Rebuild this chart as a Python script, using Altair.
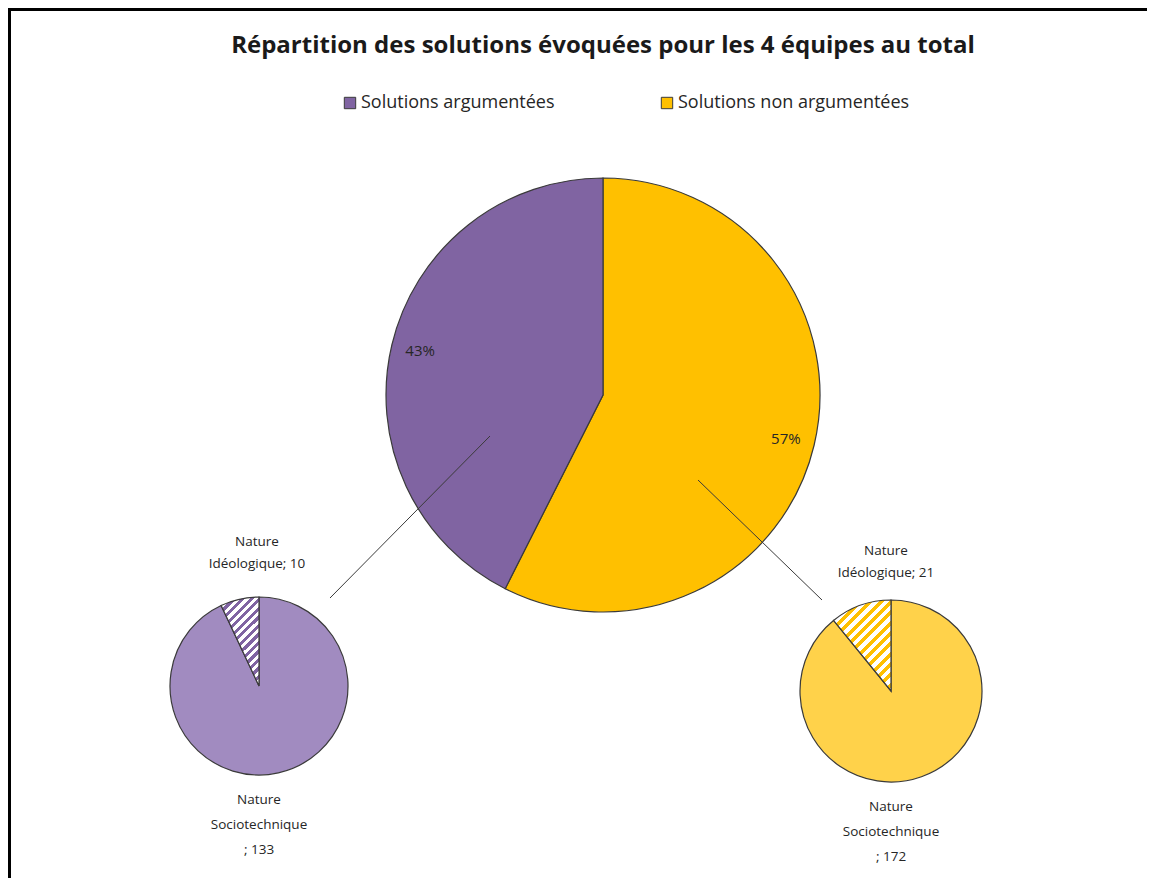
import altair as alt
import pandas as pd

# ---------------- data ----------------
title_text = "Répartition des solutions évoquées pour les 4 équipes au total"
main_categories = ["Solutions non argumentées", "Solutions argumentées"]
main_values = [193, 143]
legend_order = ["Solutions argumentées", "Solutions non argumentées"]
sub_categories = ["Nature Sociotechnique", "Nature Idéologique"]
left_values = [133, 10]    # detail of "Solutions argumentées"
right_values = [172, 21]   # detail of "Solutions non argumentées"

# ---------------- styles ----------------
PURPLE = "#8064a2"
YELLOW = "#ffc000"
PURPLE_DOT = "#a18bc0"
YELLOW_DOT = "#ffd24a"
OUTLINE = "#3a3a3a"
TEXT = "#262626"
FONT = "Open Sans"

W, H = 1139, 870
MAIN_C = (595, 387); MAIN_R = 217
LEFT_C = (251, 678); LEFT_R = 89
RIGHT_C = (883, 683); RIGHT_R = 91


def stripes(color, x2, y2, n=16):
    stops = []
    for i in range(n):
        a = i / n
        b = (i + 0.5) / n
        stops.append({"color": "#ffffff", "offset": a})
        stops.append({"color": "#ffffff", "offset": b})
        stops.append({"color": color, "offset": b})
        stops.append({"color": color, "offset": (i + 1) / n})
    return {"gradient": "linear", "x1": 0, "y1": 0, "x2": x2, "y2": y2, "stops": stops}


main_total = sum(main_values)
main_df = pd.DataFrame({
    "category": main_categories,
    "value": main_values,
    "idx": list(range(len(main_values))),
    "pct": [f"{round(v / main_total * 100)}%" for v in main_values],
})

main_pie = alt.Chart(main_df).mark_arc(
    radius=MAIN_R, stroke=OUTLINE, strokeWidth=1.2
).encode(
    theta=alt.Theta("value:Q", stack=True),
    order=alt.Order("idx:Q"),
    color=alt.Color(
        "category:N",
        scale=alt.Scale(domain=legend_order, range=[PURPLE, YELLOW]),
        legend=alt.Legend(
            title=None, orient="none", legendX=333, legendY=86,
            direction="horizontal", symbolType="square", symbolSize=130,
            symbolStrokeColor=OUTLINE, symbolStrokeWidth=1,
            labelFont=FONT, labelFontSize=18, labelColor=TEXT,
            labelOffset=2, columnPadding=103, labelLimit=400,
        ),
    ),
    x=alt.value(MAIN_C[0]), y=alt.value(MAIN_C[1]),
)

main_labels = alt.Chart(main_df).mark_text(
    radius=188, font=FONT, fontSize=15, color=TEXT
).encode(
    theta=alt.Theta("value:Q", stack=True),
    order=alt.Order("idx:Q"),
    text="pct:N",
    x=alt.value(MAIN_C[0]), y=alt.value(MAIN_C[1]),
)


def sub_pie(values, center, radius, dot, stripe_color, grad):
    df = pd.DataFrame({
        "category": sub_categories,
        "value": values,
        "idx": list(range(len(values))),
    })
    return alt.Chart(df).mark_arc(
        radius=radius, stroke=OUTLINE, strokeWidth=1.2
    ).encode(
        theta=alt.Theta("value:Q", stack=True),
        order=alt.Order("idx:Q"),
        fill=alt.condition(
            alt.datum.category == "Nature Idéologique",
            alt.value(stripes(stripe_color, *grad)),
            alt.value(dot),
        ),
        x=alt.value(center[0]), y=alt.value(center[1]),
    )


left_pie = sub_pie(left_values, LEFT_C, LEFT_R, PURPLE_DOT, PURPLE, (0.55, 1.3))
right_pie = sub_pie(right_values, RIGHT_C, RIGHT_R, YELLOW_DOT, YELLOW, (0.82, 1.3))

# labels of the small pies
ideo_df = pd.DataFrame({
    "label": [f"Nature\nIdéologique; {left_values[1]}", f"Nature\nIdéologique; {right_values[1]}"],
    "px": [249, 878], "py": [527, 536],
})
socio_df = pd.DataFrame({
    "label": [f"Nature\nSociotechnique\n; {left_values[0]}", f"Nature\nSociotechnique\n; {right_values[0]}"],
    "px": [251, 883], "py": [785, 792],
})
ideo_labels = alt.Chart(ideo_df).mark_text(
    font=FONT, fontSize=13.5, color=TEXT, baseline="top", lineBreak="\n", lineHeight=22
).encode(text="label:N", x=alt.X("px:Q", scale=None), y=alt.Y("py:Q", scale=None))
socio_labels = alt.Chart(socio_df).mark_text(
    font=FONT, fontSize=13.5, color=TEXT, baseline="top", lineBreak="\n", lineHeight=25
).encode(text="label:N", x=alt.X("px:Q", scale=None), y=alt.Y("py:Q", scale=None))

# leader lines
lead_df = pd.DataFrame({"x": [482, 690], "y": [428, 472], "x2": [322, 814], "y2": [590, 592]})
leaders = alt.Chart(lead_df).mark_rule(color=OUTLINE, strokeWidth=1).encode(
    x=alt.X("x:Q", scale=None), y=alt.Y("y:Q", scale=None),
    x2="x2:Q", y2="y2:Q",
)

# title
title_df = pd.DataFrame({"t": [title_text]})
title = alt.Chart(title_df).mark_text(
    font=FONT, fontSize=24, fontWeight="bold", color="#1a1a1a", baseline="middle"
).encode(text="t:N", x=alt.value(595), y=alt.value(38))

# frame (top and left edges)
frame_top = alt.Chart(title_df).mark_rule(color="#000000", strokeWidth=3).encode(
    x=alt.value(0), x2=alt.value(W), y=alt.value(1.5)
)
frame_left = alt.Chart(title_df).mark_rule(color="#000000", strokeWidth=3).encode(
    x=alt.value(1.5), y=alt.value(0), y2=alt.value(H)
)

chart = alt.layer(
    main_pie, main_labels, left_pie, right_pie, leaders,
    ideo_labels, socio_labels, title, frame_top, frame_left,
).resolve_scale(theta="independent").properties(
    width=W, height=H, padding=0, autosize=alt.AutoSizeParams(type="none"),
    background="#ffffff",
).configure_view(stroke=None)

chart.save("out.html", embed_options={"renderer": "svg", "actions": False})
